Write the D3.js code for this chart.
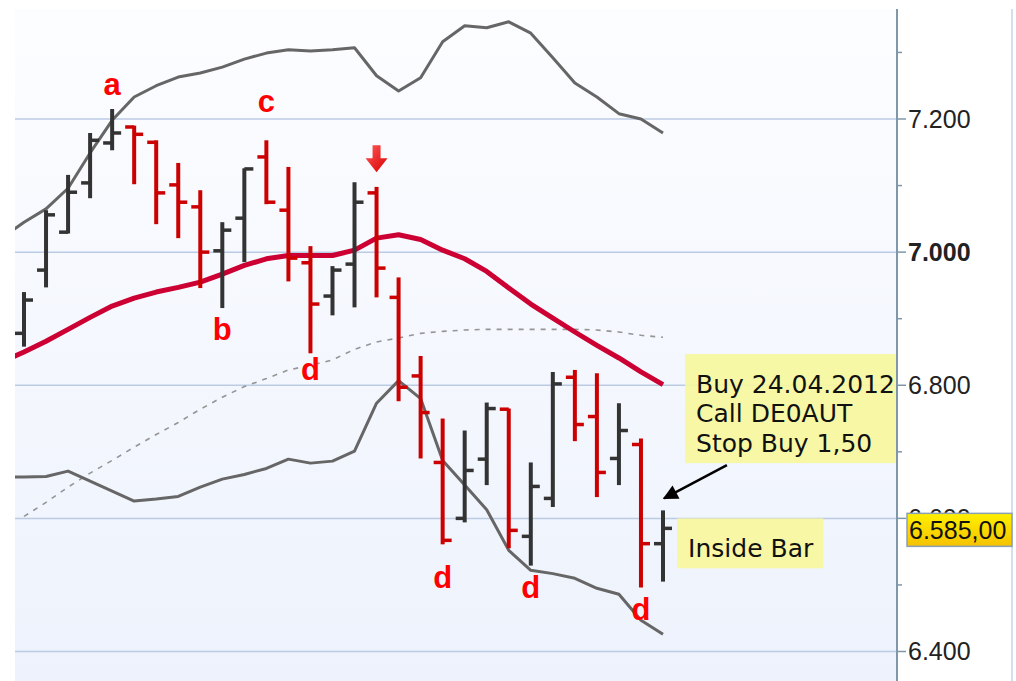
<!DOCTYPE html>
<meta charset="utf-8">
<title>DAX Inside Bar</title>
<style>
body { margin: 0; background: #fff; }
svg { display: block; }
</style>
<script src="https://d3js.org/d3.v7.min.js"></script>
<div id="chart"></div>
<script>

var width = 1016,
    height = 681,
    plot = {left: 15, top: 9, right: 897, bottom: 681};

// daily OHLC, one entry per bar
var opens  = [6878, 6973, 7030, 7104, 7164, 7188, 7165, 7101, 7068, 7002,
              7051, 7143, 7063, 6984, 6934, 6982, 7089, 6932, 6814, 6684,
              6600, 6689, 6764, 6573, 6630, 6812, 6753, 6690, 6711, 6562];
var highs  = [6940, 7063, 7116, 7179, 7215, 7190, 7168, 7134, 7093, 7045,
              7126, 7168, 7128, 7009, 6979, 7105, 7098, 6962, 6844, 6750,
              6732, 6774, 6765, 6684, 6820, 6823, 6818, 6773, 6720, 6612];
var lows   = [6858, 6947, 7028, 7081, 7153, 7102, 7042, 7021, 6946, 6916,
              6985, 7072, 6956, 6848, 6905, 6917, 6932, 6776, 6690, 6561,
              6594, 6650, 6555, 6529, 6617, 6716, 6632, 6650, 6496, 6505];
var closes = [6928, 7056, 7090, 7168, 7179, 7177, 7089, 7075, 7000, 7033,
              7125, 7075, 6991, 6922, 6973, 7075, 6976, 6797, 6759, 6567,
              6672, 6765, 6582, 6648, 6802, 6741, 6669, 6732, 6562, 6585];

// indicator lines, first value sits one bar before the first bar
var upperBand = [7021, 7045, 7065, 7096, 7149, 7198, 7233, 7250, 7263, 7269, 7278,
                 7290, 7299, 7304, 7302, 7304, 7307, 7265, 7242, 7262, 7316,
                 7340, 7337, 7346, 7329, 7292, 7254, 7233, 7208, 7200, 7179];
var lowerBand = [6662, 6662, 6663, 6671, 6656, 6641, 6626, 6629, 6633, 6647, 6659,
                 6666, 6675, 6689, 6683, 6686, 6701, 6773, 6807, 6780, 6687,
                 6650, 6613, 6552, 6522, 6517, 6510, 6495, 6486, 6447, 6426];
var movAvg    = [6835, 6850, 6866, 6884, 6902, 6919, 6931, 6940, 6947, 6955, 6967,
                 6980, 6990, 6995, 6995, 6995, 7003, 7021, 7026, 7019, 7003,
                 6990, 6971, 6946, 6922, 6901, 6880, 6860, 6841, 6820, 6801];
// slow average, starts at the first bar
var slowAvg   = [6603, 6624, 6647, 6668, 6687, 6707, 6726, 6744, 6764, 6782,
                 6798, 6810, 6823, 6830, 6838, 6854, 6865, 6871, 6878, 6881,
                 6883, 6884, 6884, 6884, 6884, 6884, 6883, 6880, 6875, 6872];

var yTicks = [6400, 6600, 6800, 7000, 7200];
var yMinorTicks = [6500, 6700, 6900, 7100, 7300];

var letterText  = ["a", "b", "c", "d", "d", "d", "d"];
var letterBar   = [4, 9, 11, 13, 19, 23, 28];
var letterPrice = [7236, 6868, 7211, 6808, 6495, 6481, 6447];

var signalBar = 16, signalPrice = 7120;
var lastPrice = "6.585,00";
var noteLines = ["Buy 24.04.2012", "Call DE0AUT", "Stop Buy 1,50"];
var insideText = "Inside Bar";

var svg = d3.select("#chart").append("svg")
    .attr("width", width)
    .attr("height", height);

var defs = svg.append("defs");

var bg = defs.append("linearGradient")
    .attr("id", "bg").attr("x1", 0).attr("y1", 0).attr("x2", 0).attr("y2", 1);
bg.append("stop").attr("offset", "0%").attr("stop-color", "#fcfdff");
bg.append("stop").attr("offset", "100%").attr("stop-color", "#edf2fc");

var gold = defs.append("linearGradient")
    .attr("id", "gold").attr("x1", 0).attr("y1", 0).attr("x2", 0).attr("y2", 1);
gold.append("stop").attr("offset", "0%").attr("stop-color", "#fff000");
gold.append("stop").attr("offset", "100%").attr("stop-color", "#f6c200");

var redg = defs.append("linearGradient")
    .attr("id", "redg").attr("x1", 0).attr("y1", 0).attr("x2", 1).attr("y2", 1);
redg.append("stop").attr("offset", "0%").attr("stop-color", "#ff5a5a");
redg.append("stop").attr("offset", "100%").attr("stop-color", "#d80000");

defs.append("clipPath").attr("id", "clip")
  .append("rect")
    .attr("x", plot.left).attr("y", plot.top)
    .attr("width", plot.right - plot.left)
    .attr("height", plot.bottom - plot.top);

defs.append("marker")
    .attr("id", "head")
    .attr("viewBox", "0 0 10 10")
    .attr("refX", 9).attr("refY", 5)
    .attr("markerWidth", 7).attr("markerHeight", 6)
    .attr("markerUnits", "strokeWidth")
    .attr("orient", "auto")
  .append("path")
    .attr("d", "M0,0L10,5L0,10z")
    .attr("fill", "#000");

var x = d3.scaleLinear()
    .domain([0, 29])
    .range([24, 663]);

var y = d3.scaleLinear()
    .domain([6400, 7200])
    .range([651.5, 119]);

// the last price box hides the lower part of the label under it
var ly = y(closes[closes.length - 1]);
defs.append("clipPath").attr("id", "labclip")
  .append("rect")
    .attr("x", plot.right).attr("y", 0)
    .attr("width", width - plot.right)
    .attr("height", ly - 15);

// plot background and right scale panel
svg.append("rect")
    .attr("x", plot.left).attr("y", plot.top)
    .attr("width", plot.right - plot.left)
    .attr("height", plot.bottom - plot.top)
    .attr("fill", "url(#bg)");

svg.append("line")
    .attr("x1", 1012).attr("x2", 1012)
    .attr("y1", plot.top).attr("y2", plot.bottom)
    .attr("stroke", "#d3def0")
    .attr("stroke-width", 2);

var g = svg.append("g").attr("clip-path", "url(#clip)");

g.selectAll(".grid")
    .data(yTicks)
  .enter().append("line")
    .attr("class", "grid")
    .attr("x1", plot.left).attr("x2", plot.right)
    .attr("y1", function(d) { return y(d); })
    .attr("y2", function(d) { return y(d); })
    .attr("stroke", "#bccbe4")
    .attr("stroke-width", 1.5);

// lines
var bandLine = d3.line()
    .x(function(d, i) { return x(i - 1); })
    .y(function(d) { return y(d); });

var slowLine = d3.line()
    .x(function(d, i) { return x(i); })
    .y(function(d) { return y(d); });

g.append("path")
    .attr("d", slowLine(slowAvg))
    .attr("fill", "none")
    .attr("stroke", "#959595")
    .attr("stroke-width", 1.6)
    .attr("stroke-dasharray", "5,6");

g.append("path")
    .attr("d", bandLine(upperBand))
    .attr("fill", "none")
    .attr("stroke", "#666")
    .attr("stroke-width", 3)
    .attr("stroke-linejoin", "round");

g.append("path")
    .attr("d", bandLine(lowerBand))
    .attr("fill", "none")
    .attr("stroke", "#666")
    .attr("stroke-width", 3)
    .attr("stroke-linejoin", "round");

g.append("path")
    .attr("d", bandLine(movAvg))
    .attr("fill", "none")
    .attr("stroke", "#cc0033")
    .attr("stroke-width", 5)
    .attr("stroke-linejoin", "round");

// OHLC bars
var bars = d3.range(opens.length);
var barColor = function(i) { return closes[i] >= opens[i] ? "#333333" : "#cc0000"; };

var bar = g.selectAll(".bar")
    .data(bars)
  .enter().append("g")
    .attr("class", "bar")
    .attr("stroke", barColor);

bar.append("line")
    .attr("x1", function(i) { return x(i); })
    .attr("x2", function(i) { return x(i); })
    .attr("y1", function(i) { return y(highs[i]); })
    .attr("y2", function(i) { return y(lows[i]); })
    .attr("stroke-width", 4);

bar.append("line")
    .attr("x1", function(i) { return x(i) - 9; })
    .attr("x2", function(i) { return x(i); })
    .attr("y1", function(i) { return y(opens[i]); })
    .attr("y2", function(i) { return y(opens[i]); })
    .attr("stroke-width", 3.5);

bar.append("line")
    .attr("x1", function(i) { return x(i); })
    .attr("x2", function(i) { return x(i) + 9; })
    .attr("y1", function(i) { return y(closes[i]); })
    .attr("y2", function(i) { return y(closes[i]); })
    .attr("stroke-width", 3.5);

// pattern letters
g.selectAll(".letter")
    .data(letterText)
  .enter().append("text")
    .attr("class", "letter")
    .attr("x", function(d, i) { return x(letterBar[i]); })
    .attr("y", function(d, i) { return y(letterPrice[i]); })
    .attr("text-anchor", "middle")
    .style("font-family", "'Liberation Sans', Arial, sans-serif")
    .style("font-weight", "bold")
    .style("font-size", "31px")
    .attr("fill", "#ff0000")
    .text(function(d) { return d; });

// signal arrow above the bar
var sx = x(signalBar), sy = y(signalPrice);
g.append("path")
    .attr("d", "M" + (sx - 4) + "," + (sy - 27) + "H" + (sx + 4) + "V" + (sy - 14) +
               "H" + (sx + 11) + "L" + sx + "," + sy + "L" + (sx - 11) + "," + (sy - 14) +
               "H" + (sx - 4) + "Z")
    .attr("fill", "url(#redg)");

// notes
var noteFont = "'DejaVu Sans', Verdana, sans-serif";
var buyTop = y(6847), buyBottom = y(6683), buyLeft = x(30.0);

svg.append("rect")
    .attr("x", buyLeft).attr("y", buyTop)
    .attr("width", plot.right - buyLeft)
    .attr("height", buyBottom - buyTop)
    .attr("fill", "#f7f79c")
    .attr("fill-opacity", 0.9);

svg.selectAll(".note")
    .data(noteLines)
  .enter().append("text")
    .attr("class", "note")
    .attr("x", buyLeft + 11)
    .attr("y", function(d, i) { return buyTop + 39 + i * 29.5; })
    .style("font-family", noteFont)
    .style("font-size", "25px")
    .attr("fill", "#111")
    .text(function(d) { return d; });

var inTop = y(6600), inBottom = y(6525), inLeft = x(29.64), inRight = x(36.27);
svg.append("rect")
    .attr("x", inLeft).attr("y", inTop)
    .attr("width", inRight - inLeft)
    .attr("height", inBottom - inTop)
    .attr("fill", "#f7f79c")
    .attr("fill-opacity", 0.9);

svg.append("text")
    .attr("x", inLeft + 11)
    .attr("y", inBottom - 11)
    .style("font-family", noteFont)
    .style("font-size", "25px")
    .attr("fill", "#111")
    .text(insideText);

svg.append("line")
    .attr("x1", x(31.9)).attr("y1", y(6680))
    .attr("x2", x(29.05)).attr("y2", y(6630))
    .attr("stroke", "#000")
    .attr("stroke-width", 2.5)
    .attr("marker-end", "url(#head)");

// right price scale
svg.append("line")
    .attr("x1", plot.right).attr("x2", plot.right)
    .attr("y1", plot.top).attr("y2", plot.bottom)
    .attr("stroke", "#8097aa")
    .attr("stroke-width", 2);

svg.selectAll(".minor")
    .data(yMinorTicks)
  .enter().append("line")
    .attr("class", "minor")
    .attr("x1", plot.right).attr("x2", plot.right + 5)
    .attr("y1", function(d) { return y(d); })
    .attr("y2", function(d) { return y(d); })
    .attr("stroke", "#8097aa")
    .attr("stroke-width", 1.5);

svg.selectAll(".major")
    .data(yTicks)
  .enter().append("line")
    .attr("class", "major")
    .attr("x1", plot.right).attr("x2", plot.right + 9)
    .attr("y1", function(d) { return y(d); })
    .attr("y2", function(d) { return y(d); })
    .attr("stroke", "#8097aa")
    .attr("stroke-width", 1.5);

var fmt = function(d) { return d3.format(",")(d).replace(",", "."); };

svg.selectAll(".ylab")
    .data(yTicks)
  .enter().append("text")
    .attr("class", "ylab")
    .attr("x", plot.right + 11)
    .attr("y", function(d) { return y(d); })
    .attr("dy", "0.35em")
    .attr("clip-path", function(d) { return d === 6600 ? "url(#labclip)" : null; })
    .style("font-family", "'Liberation Sans', Arial, sans-serif")
    .style("font-size", "25px")
    .style("font-weight", function(d) { return d === 7000 ? "bold" : "normal"; })
    .attr("fill", "#222")
    .text(fmt);

// last price marker
svg.append("rect")
    .attr("x", plot.right + 10).attr("y", ly - 15)
    .attr("width", 105).attr("height", 33)
    .attr("fill", "url(#gold)")
    .attr("stroke", "#8aa0b4")
    .attr("stroke-width", 1.5);

svg.append("text")
    .attr("x", plot.right + 12)
    .attr("y", ly + 2)
    .attr("dy", "0.35em")
    .style("font-family", "'Liberation Sans', Arial, sans-serif")
    .style("font-size", "25px")
    .attr("fill", "#111")
    .text(lastPrice);

</script>
